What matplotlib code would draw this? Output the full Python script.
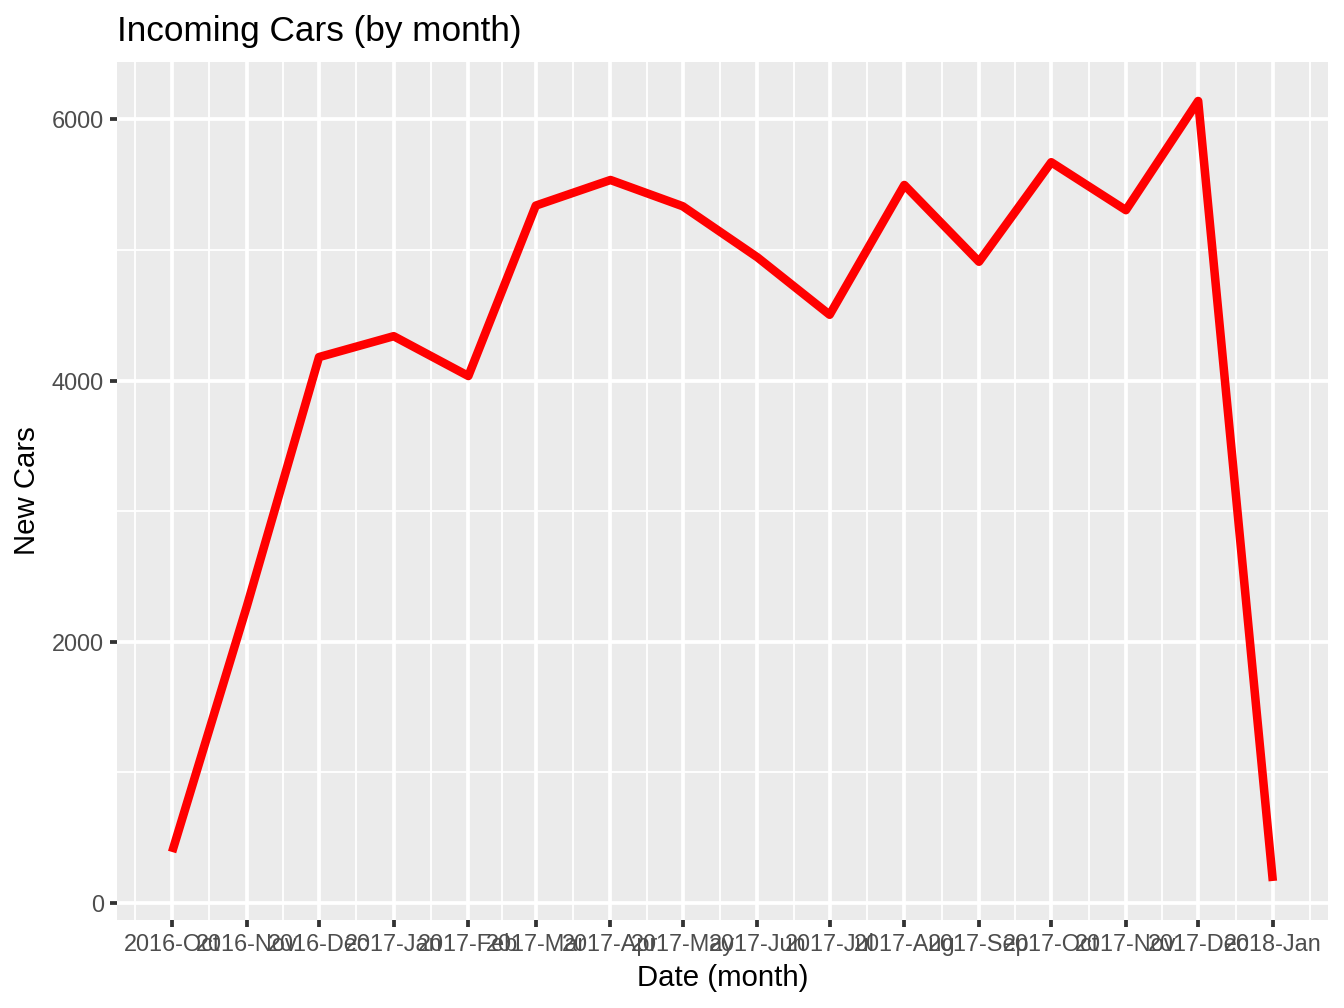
import datetime as dt

import matplotlib
matplotlib.use("Agg")
import matplotlib.dates as mdates
import matplotlib.pyplot as plt

months = [
    "2016-10-01", "2016-11-01", "2016-12-01", "2017-01-01", "2017-02-01",
    "2017-03-01", "2017-04-01", "2017-05-01", "2017-06-01", "2017-07-01",
    "2017-08-01", "2017-09-01", "2017-10-01", "2017-11-01", "2017-12-01",
    "2018-01-01",
]
new_cars = [
    390, 2270, 4180, 4340, 4035,
    5340, 5536, 5335, 4944, 4504,
    5498, 4910, 5672, 5305, 6141,
    168,
]
month_labels = [
    "2016-Oct", "2016-Nov", "2016-Dec", "2017-Jan", "2017-Feb",
    "2017-Mar", "2017-Apr", "2017-May", "2017-Jun", "2017-Jul",
    "2017-Aug", "2017-Sep", "2017-Oct", "2017-Nov", "2017-Dec",
    "2018-Jan",
]
y_ticks = [0, 2000, 4000, 6000]
y_minor = [1000, 3000, 5000]

plt.rcParams["font.family"] = ["Liberation Sans", "DejaVu Sans"]

dates = [dt.datetime.strptime(m, "%Y-%m-%d") for m in months]
xnum = mdates.date2num(dates)

fig = plt.figure(figsize=(7, 5.25), dpi=192)
ax = fig.add_axes([0.0871, 0.0873, 0.9009, 0.8512])
ax.set_facecolor("#EBEBEB")
for spine in ax.spines.values():
    spine.set_visible(False)

# ggplot-style minor breaks: midpoints between majors, plus one on each edge
mids = [(a + b) / 2 for a, b in zip(xnum[:-1], xnum[1:])]
x_minor = [xnum[0] - (mids[0] - xnum[0])] + mids + [xnum[-1] + (xnum[-1] - mids[-1])]

for xm in x_minor:
    ax.axvline(xm, color="white", linewidth=0.71, zorder=1)
for ym in y_minor:
    ax.axhline(ym, color="white", linewidth=0.71, zorder=1)
for xv in xnum:
    ax.axvline(xv, color="white", linewidth=1.42, zorder=1)
for yv in y_ticks:
    ax.axhline(yv, color="white", linewidth=1.42, zorder=1)

ax.plot(xnum, new_cars, color="#FF0000", linewidth=3.2, solid_capstyle="butt",
        solid_joinstyle="round", zorder=3)

span = xnum[-1] - xnum[0]
ax.set_xlim(xnum[0] - 0.05 * span, xnum[-1] + 0.05 * span)
yr = max(new_cars) - min(new_cars)
ax.set_ylim(min(new_cars) - 0.05 * yr, max(new_cars) + 0.05 * yr)

ax.set_xticks(xnum)
ax.set_xticklabels(month_labels)
ax.set_yticks(y_ticks)
ax.set_yticklabels([str(v) for v in y_ticks])
ax.tick_params(axis="both", which="major", length=2.75, width=1.42,
               color="#333333", labelsize=8.8, labelcolor="#4D4D4D", pad=2.2)

ax.set_xlabel("Date (month)", fontsize=11, color="black", labelpad=3)
ax.set_ylabel("New Cars", fontsize=11, color="black", labelpad=4)
ax.set_title("Incoming Cars (by month)", fontsize=13.2, loc="left", pad=8)

fig.savefig("out.png", dpi=192)
plt.close(fig)
